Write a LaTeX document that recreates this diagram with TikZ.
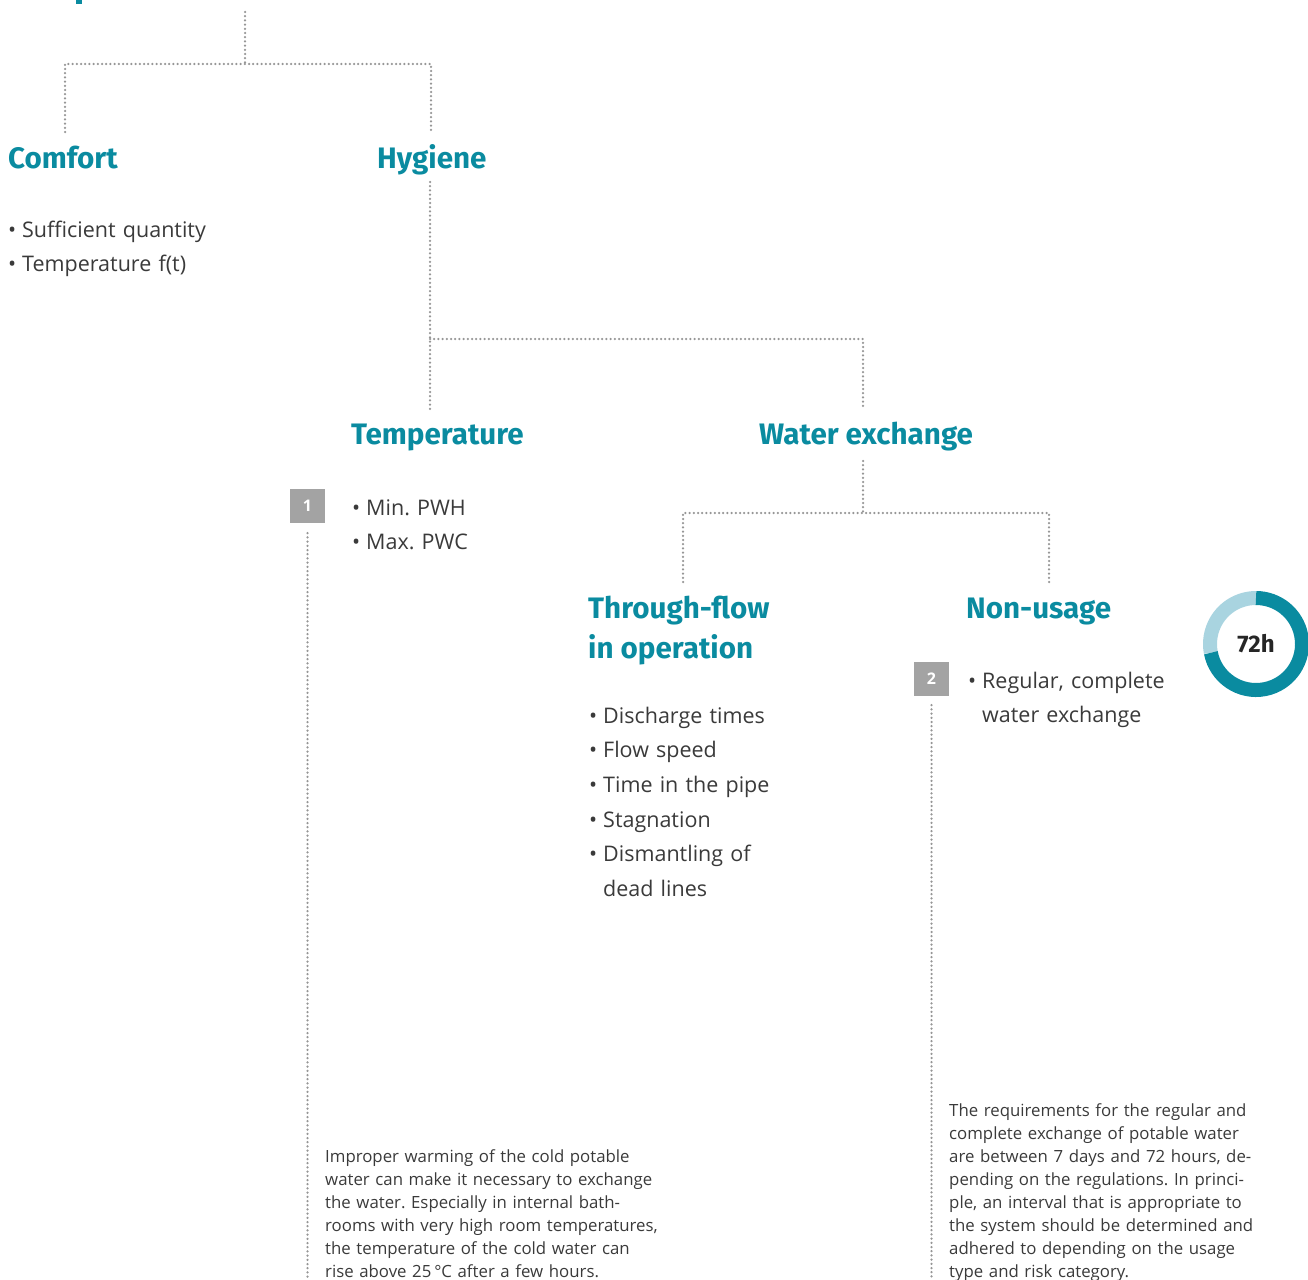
\documentclass[tikz,border=0pt]{standalone}
\usepackage{fontspec}
\setmainfont{Open Sans}
\newfontfamily\headfont{Fira Sans}
\definecolor{teal1}{HTML}{0A8BA0}
\definecolor{ringlight}{HTML}{A9D4E0}
\definecolor{dotgray}{HTML}{969696}
\definecolor{badgegray}{HTML}{A3A3A3}
\definecolor{bodytext}{HTML}{3A3A3A}
\newcommand{\bul}{\makebox[14pt][l]{\textbullet}}
\newcommand{\ind}{\hspace*{14pt}}
\frenchspacing
\tikzset{
  dots/.style={draw=dotgray, line width=2.5pt, dash pattern=on 0pt off 4.2pt, line cap=round},
  heading/.style={anchor=base west, inner sep=0pt, text=teal1, font=\headfont\bfseries\fontsize{29.6}{40}\selectfont, align=left},
  bullets/.style={anchor=base west, inner sep=0pt, text=bodytext, font=\fontsize{21.5}{34.7}\selectfont, text width=400pt},
  para/.style={anchor=base west, inner sep=0pt, text=bodytext, font=\fontsize{16.8}{23}\selectfont, text width=400pt},
  badge/.style={fill=badgegray, text=white, minimum width=35pt, minimum height=34pt, inner sep=0pt, font=\bfseries\fontsize{16}{16}\selectfont}
}
\begin{document}
\begin{tikzpicture}[x=1pt,y=-1pt]
\useasboundingbox (0,0) rectangle (1308,1279);
% cut-off glyph at top
\fill[teal1] (76,0) rectangle (82,4);

% headings
\node[heading] (comfort) at (8,168) {Comfort};
\node[heading] (hygiene) at (377,168) {Hygiene};
\node[heading] (temp) at (351,444) {Temperature};
\node[heading] (water) at (759,444) {Water exchange};
\node[heading] (through) at (588,658) {Through-flow\\in operation};
\node[heading] (nonuse) at (966,618) {Non-usage};

% bullet lists
\node[bullets] (comfortlist) at (8,237) {\bul Sufficient quantity\\\bul Temperature f(t)};
\node[bullets] (templist) at (352,515) {\bul Min. PWH\\\bul Max. PWC};
\node[bullets] (throughlist) at (589,723) {\bul Discharge times\\\bul Flow speed\\\bul Time in the pipe\\\bul Stagnation\\\bul Dismantling of\\\ind dead lines};
\node[bullets] (nonuselist) at (968,688) {\bul Regular, complete\\\ind water exchange};

% badges
\node[badge] (b1) at (307.5,506) {1};
\node[badge] (b2) at (931.5,679) {2};

% paragraphs
\node[para] (p1) at (325,1162) {Improper warming of the cold potable\\water can make it necessary to exchange\\the water. Especially in internal bath-\\rooms with very high room temperatures,\\the temperature of the cold water can\\rise above 25\,°C after a few hours.};
\node[para] (p2) at (949,1116) {The requirements for the regular and\\complete exchange of potable water\\are between 7 days and 72 hours, de-\\pending on the regulations. In princi-\\ple, an interval that is appropriate to\\the system should be determined and\\adhered to depending on the usage\\type and risk category.};

% connector coordinates
\coordinate (c0) at (245,12);
\coordinate (c1) at (245,64);
\coordinate (c2) at (65,64);
\coordinate (c3) at (65,132);
\coordinate (c4) at (431,64);
\coordinate (c5) at (431,132);
\coordinate (h0) at (430,182);
\coordinate (h1) at (430,409);
\coordinate (h2) at (430,339);
\coordinate (h3) at (863,339);
\coordinate (h4) at (863,407);
\coordinate (w0) at (863,461);
\coordinate (w1) at (863,513);
\coordinate (w2) at (683,513);
\coordinate (w3) at (683,582);
\coordinate (w4) at (1049,513);
\coordinate (w5) at (1049,582);
\coordinate (e1) at (307.5,1279);
\coordinate (e2) at (931.5,1279);

\draw[dots] (c0) -- (c1);
\draw[dots] (c3) -- (c2) -- (c4) -- (c5);
\draw[dots] (h0) -- (h1);
\draw[dots] (h2) -- (h3) -- (h4);
\draw[dots] (w0) -- (w1);
\draw[dots] (w3) -- (w2) -- (w4) -- (w5);
\draw[dots] ([yshift=-10pt]b1.south) -- (e1);
\draw[dots] ([yshift=-9pt]b2.south) -- (e2);

% ring
\coordinate (ringc) at (1256,644);
\begin{scope}[shift={(ringc)}, y=1pt]
  \draw[ringlight, line width=14pt] (90:46) arc (90:191:46);
  \draw[teal1, line width=14pt] (191:46) arc (191:450:46);
\end{scope}
\node[font=\headfont\bfseries\fontsize{24}{24}\selectfont, text=black!85, inner sep=0pt] (ring) at (ringc) {72h};
\end{tikzpicture}
\end{document}
